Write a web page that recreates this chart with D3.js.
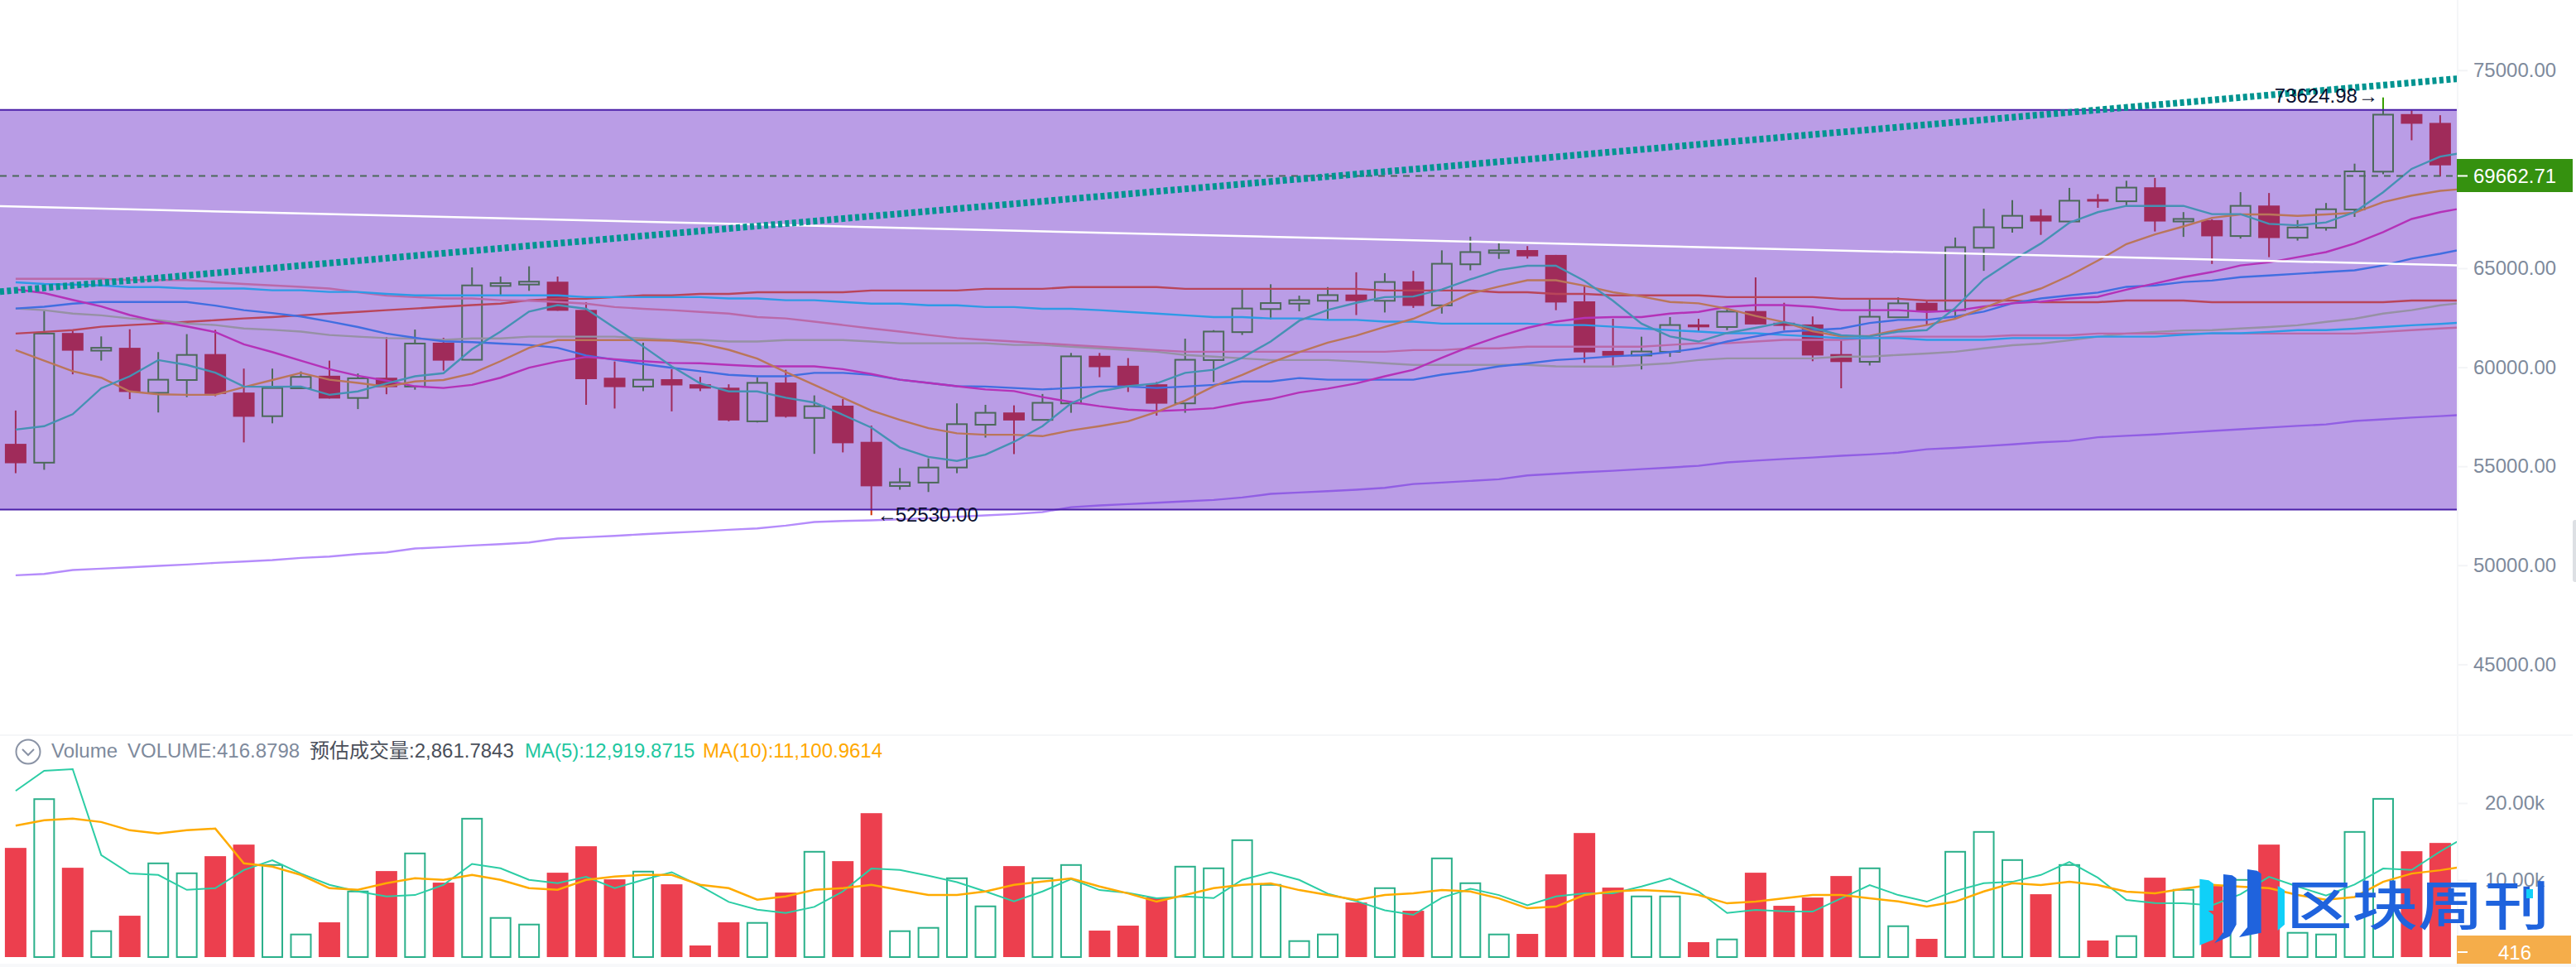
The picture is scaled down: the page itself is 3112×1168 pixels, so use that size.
<!DOCTYPE html>
<html>
<head>
<meta charset="utf-8">
<script src="https://cdn.jsdelivr.net/npm/d3@7"></script>
<style>
html, body { margin: 0; padding: 0; background: #fff; overflow: hidden; }
text { font-family: "Liberation Sans", "Noto Sans CJK SC", sans-serif; }
</style>
</head>
<body>
<div id="graph"></div>
<script>
window.onload = start;

// candles
var opens = [56133,55183,61731,60838,60982,58709,59356,60666,58723,57529,
    58939,59572,58450,59471,59025,61241,60378,64105,64177,64321,
    62896,59471,59025,59399,59140,58968,57270,59227,57442,58061,
    56234,54003,54176,54938,57097,57716,57342,58176,60579,60076,
    59140,58176,60363,61774,62939,63213,63357,63673,63357,64335,
    63126,65199,65774,65918,65673,63328,60824,60594,60781,62162,
    62033,62839,62249,62162,60666,60277,62522,63256,62882,66033,
    67043,67662,67360,68497,68382,69087,67360,67432,66626,68166,
    66540,67043,67964,69878,72785,72339];
var closes = [55154,61702,60838,60982,58752,59371,60623,58651,57500,58953,
    59515,58421,59443,58996,61198,60335,64134,64249,64321,62853,
    59399,58996,59371,59083,58925,57313,59212,57500,58032,56162,
    53989,54190,54938,57126,57701,57313,58205,60551,60004,59068,
    58162,60378,61803,62968,63242,63385,63644,63342,64306,63098,
    65227,65817,65904,65601,63270,60752,60579,60795,62133,62018,
    62810,62162,62090,60594,60263,62551,63227,62839,66062,67069,
    67648,67360,68410,68367,69072,67360,67489,66612,68151,66525,
    67058,67979,69892,72756,72296,70195];
var highs = [57816,62853,61846,61558,61918,60766,61673,61889,59932,59932,
    59788,60335,59687,61529,61903,61486,65040,64580,65098,64580,
    63285,60292,61241,59903,59515,59140,59500,59874,58579,58392,
    57054,54910,55399,58176,58104,58076,58651,60723,60723,60464,
    59255,61443,61874,63932,64191,63616,64047,64796,64752,64868,
    65904,66594,66278,66120,65673,64119,62450,61544,62536,62450,
    62925,64537,63256,62565,61342,63429,63529,63357,66551,68005,
    68439,67979,69058,68741,69418,69561,67835,67475,68842,68799,
    67432,68295,70281,73624.98,72972,72727];
var lows = [54651,54823,59644,60335,58392,57716,58493,58536,56205,57169,
    58896,58421,57888,58637,58867,59831,60378,63644,63860,62853,
    58104,57917,58795,57773,58795,57270,57212,57457,55629,55701,
    52530,53816,53701,54651,56449,55615,57342,57701,59500,58752,
    57557,57701,59255,61630,62421,62824,62421,62637,62767,62997,
    62709,64896,65472,65486,62882,60220,60076,59889,60522,61817,
    61874,62162,61874,60306,58939,60090,62522,62133,62493,64868,
    66799,66683,67259,68051,68151,66856,66583,65216,66496,65561,
    66396,66899,67590,69749,71461,69633];

// moving averages on the price pane
var maTeal = [56852,57025,57629,58939,59543,60364,60119,59730,59025,59011,
    59025,58608,58781,59184,59543,59702,60910,61802,62810,63141,
    62954,61990,61054,60047,59184,58781,58781,58464,58219,57601,
    56953,55946,55471,55269,55586,56234,57025,58176,58781,59040,
    59184,59716,59874,60479,61299,62349,62896,63256,63544,63572,
    63932,64436,64911,65127,65127,64364,63357,62205,61558,61299,
    61731,61990,62277,61990,61615,61558,61802,61874,62997,64436,
    65386,66249,67300,67832,68149,68149,68149,67731,67731,67242,
    67170,67314,67832,68839,70019,70638,70883];
var maOrange = [60867,60335,59802,59471,58781,58637,58608,58608,58996,59356,
    59716,59371,59212,59025,59284,59356,59687,60306,60982,61371,
    61371,61371,61371,61342,61198,60882,60436,59759,59112,58464,
    57816,57342,56924,56665,56593,56593,56521,56809,57025,57270,
    57745,58320,59040,59615,60234,60766,61241,61601,62033,62450,
    63069,63716,64076,64393,64393,64119,63788,63572,63299,63227,
    62954,62594,62277,61817,61558,61587,61889,62133,62450,62997,
    63544,63975,64623,65386,66220,66709,67112,67544,67717,67717,
    67645,67717,67803,68336,68667,68911,69027];
var maMagenta = [63932,63745,63400,63069,62637,62306,62061,61774,61155,60766,
    60335,59903,59572,59327,59040,58953,59112,59471,59975,60292,
    60522,60407,60306,60220,60205,60119,60047,60047,60047,59903,
    59658,59371,59212,59040,58881,58795,58493,58248,58032,57859,
    57787,57845,57931,58205,58392,58723,58925,59184,59543,59874,
    60479,61054,61558,61990,62306,62493,62536,62536,62709,62795,
    63054,63141,63141,63054,62882,62882,62882,62795,62853,63069,
    63227,63313,63472,63558,63918,64234,64551,64810,65141,65299,
    65558,65817,66249,66824,67487,67832,68091];
var maBlue = [62968,63054,63213,63299,63299,63299,63299,63112,62882,62738,
    62565,62306,62033,61702,61486,61313,61270,61198,61126,60982,
    60594,60378,60162,59975,59802,59615,59543,59543,59716,59716,
    59615,59371,59212,59040,59025,58953,58881,58953,59025,59025,
    58953,59025,59112,59284,59284,59457,59371,59371,59371,59371,
    59630,59802,60047,60191,60364,60450,60551,60623,60766,60953,
    61299,61558,61802,61874,61961,62234,62392,62392,62565,62810,
    63227,63472,63630,63774,64062,64134,64306,64378,64551,64637,
    64724,64810,64896,65141,65486,65731,66019];
var maSky = [64292,64206,64177,64134,64047,64047,63975,63975,63975,63889,
    63889,63803,63803,63702,63630,63630,63630,63630,63630,63630,
    63544,63544,63544,63544,63544,63472,63472,63385,63385,63299,
    63213,63213,63127,63127,63040,63040,62954,62954,62882,62795,
    62709,62623,62536,62536,62464,62464,62392,62392,62306,62306,
    62205,62205,62205,62205,62133,62133,62047,61961,61874,61802,
    61716,61716,61630,61558,61472,61472,61472,61385,61385,61385,
    61472,61472,61472,61544,61544,61544,61644,61716,61716,61788,
    61874,61874,61946,62033,62119,62191,62277];
var maPink = [64465,64465,64465,64465,64407,64407,64407,64292,64206,64134,
    64062,63975,63788,63616,63544,63472,63472,63385,63357,63299,
    63213,63040,62954,62882,62795,62709,62536,62464,62306,62133,
    61961,61802,61630,61472,61385,61299,61213,61126,61040,60953,
    60867,60781,60781,60781,60781,60781,60781,60781,60781,60867,
    60867,60953,60953,61040,61040,61040,61040,61040,61126,61213,
    61213,61299,61385,61385,61385,61472,61544,61544,61544,61544,
    61615,61615,61615,61702,61702,61702,61702,61702,61702,61702,
    61702,61702,61702,61788,61874,61961,62033];
var maGray = [62968,62882,62709,62623,62464,62378,62205,62133,61961,61889,
    61802,61630,61544,61472,61457,61385,61457,61457,61544,61544,
    61544,61544,61457,61385,61385,61299,61299,61371,61371,61371,
    61299,61213,61213,61213,61213,61126,61126,61040,60953,60867,
    60781,60623,60536,60450,60364,60364,60364,60292,60205,60119,
    60119,60119,60119,60119,60047,60033,60033,60119,60205,60364,
    60450,60450,60450,60450,60536,60536,60623,60695,60781,60953,
    61112,61198,61357,61544,61702,61788,61860,61874,61961,62033,
    62119,62292,62450,62709,62882,63127,63285];
var maRed = [61702,61788,61874,62047,62133,62205,62292,62378,62464,62536,
    62623,62709,62795,62882,62968,63054,63141,63213,63385,63457,
    63457,63544,63630,63630,63702,63702,63788,63788,63788,63788,
    63875,63875,63875,63875,63961,63961,63961,64047,64047,64047,
    64047,63961,63961,63961,63961,63961,63961,63961,63875,63875,
    63875,63875,63788,63788,63702,63702,63630,63630,63630,63630,
    63544,63544,63544,63544,63457,63457,63457,63371,63371,63371,
    63371,63285,63285,63285,63371,63371,63371,63285,63285,63285,
    63285,63285,63285,63285,63371,63371,63371];
var maViolet = [49495,49565,49760,49829,49899,49969,50038,50122,50192,50261,
    50373,50442,50568,50651,50846,50916,50999,51069,51153,51348,
    51417,51487,51571,51640,51710,51793,51863,52002,52184,52239,
    52268,52323,52379,52449,52518,52588,52686,52936,53020,53089,
    53159,53229,53298,53424,53605,53675,53744,53814,53911,54106,
    54176,54260,54343,54538,54622,54705,54775,54859,54938,55025,
    55198,55284,55370,55442,55528,55600,55687,55859,55931,56018,
    56107,56208,56280,56467,56539,56610,56697,56783,56870,56956,
    57042,57114,57287,57373,57460,57531,57618];

// volume pane
var volumes = [14177,20513,11599,3365,5370,12172,10883,13103,14606,11957,
    2936,4511,8520,11170,13461,9666,17972,5084,4224,10955,
    14392,10096,11098,9451,1504,4511,4439,8377,13676,12458,
    18688,3365,3795,10239,6587,11814,10239,11957,3437,4081,
    7733,11742,11528,15179,9380,2076,2936,7088,8950,6014,
    12816,9594,2936,3007,10740,16110,9022,7876,7876,1933,
    2291,10955,6659,7733,10525,11528,4010,2363,13676,16253,
    12602,8162,11957,2148,2721,10310,8735,9236,10024,14606,
    3150,2936,16253,20549,13747,14821];
var volMa5 = [21587,24201,24416,13246,10847,10668,8735,8950,11313,12566,
    10847,9380,8520,7876,8055,9380,12100,11528,10024,9594,
    10418,8950,10024,11026,9236,7160,6158,5728,6516,8520,
    11492,11313,10561,9738,8520,7232,8520,10131,8699,8341,
    7625,7876,7661,10024,11026,10024,8234,7267,6086,5477,
    7697,8878,8055,6730,7876,8270,8270,9165,10203,8520,
    5728,6122,5943,5907,7625,9344,8055,7196,8592,9594,
    9773,10668,12351,10310,7411,7017,6981,6730,8162,10418,
    9165,7983,9415,11492,11313,13711,15859];
var volMa10 = [17077,17757,17972,17542,16468,16038,16468,16683,12172,11742,
    10668,8950,8735,9594,10239,10024,10668,10024,8950,8735,
    10024,10454,10668,10668,9380,8950,7446,7876,8735,8950,
    9380,8699,8055,8055,8520,9380,9809,10203,9165,8270,
    7196,8055,8950,9380,9559,8699,8055,7411,8055,8270,
    8699,8520,7625,6337,6551,8055,8520,8699,8520,8055,
    6981,7196,7625,8055,8055,7625,7232,6551,7196,8520,
    9594,9344,9773,9344,8485,8270,8878,9380,9129,8950,
    8055,7446,7804,9773,10847,11277,11850];

// drawn levels and trend lines
var bandPrices = [72994, 52817];
var lastPrice = 69662.71;
var highPrice = 73624.98;
var lowPrice = 52530;
var trendIndex = [-0.55, 85.6];
var whiteTrend = [68134, 65144];
var dottedTrend = [63817, 74569];

var priceTicks = [75000, 70000, 65000, 60000, 55000, 50000, 45000];
var priceTickLabels = ["75000.00", "", "65000.00", "60000.00", "55000.00", "50000.00", "45000.00"];
var volumeTicks = [20000, 10000];
var volumeTickLabels = ["20.00k", "10.00k"];

var svg, xScale, yScale, volScale;
var width = 3112, height = 1168, plotRight = 2968;

// colours are given before the translucent band goes over them
var bandFill = "rgba(102,38,200,0.45)";
var upColor = "#37a000", downColor = "#cf3100";

function start() {
    svg = d3.select("#graph").append("svg")
        .attr("width", width)
        .attr("height", height)
        .style("display", "block");

    xScale = d3.scaleLinear().domain([0, 85]).range([18.9, 2947.9]);
    yScale = d3.scaleLinear().domain([45000, 75000]).range([802.4, 84.8]);
    volScale = d3.scaleLinear().domain([0, 20000]).range([1156, 970]);

    svg.append("defs").append("clipPath").attr("id", "plotClip")
        .append("rect").attr("x", 0).attr("y", 0).attr("width", plotRight).attr("height", height);

    drawFrame();
    drawVolume();
    drawPrice();
    drawAxes();
    drawLegend();
    drawLogo();
}

function drawFrame() {
    svg.append("rect").attr("x", 0).attr("y", 887).attr("width", 3108).attr("height", 2).attr("fill", "#f5f6f8");
    svg.append("rect").attr("x", 0).attr("y", 1164).attr("width", 3112).attr("height", 4).attr("fill", "#f7f8fa");
    svg.append("rect").attr("x", 2968).attr("y", 0).attr("width", 2).attr("height", height).attr("fill", "#f5f6f8");
    // scrollbar thumb at the page edge
    svg.append("rect").attr("x", 3108).attr("y", 628).attr("width", 8).attr("height", 75).attr("rx", 3).attr("fill", "#dde0e4");
}

function drawPrice() {
    var plot = svg.append("g").attr("clip-path", "url(#plotClip)");
    var idx = d3.range(opens.length);

    plot.selectAll(".wick").data(idx).enter().append("line")
        .attr("class", "wick")
        .attr("x1", function(i) { return xScale(i); })
        .attr("x2", function(i) { return xScale(i); })
        .attr("y1", function(i) { return yScale(highs[i]); })
        .attr("y2", function(i) { return yScale(lows[i]); })
        .attr("stroke", function(i) { return closes[i] >= opens[i] ? upColor : downColor; })
        .attr("stroke-width", 2);

    plot.selectAll(".body").data(idx).enter().append("rect")
        .attr("class", "body")
        .attr("x", function(i) { return xScale(i) - (closes[i] >= opens[i] ? 12 : 13); })
        .attr("width", function(i) { return closes[i] >= opens[i] ? 24 : 26; })
        .attr("y", function(i) { return yScale(Math.max(opens[i], closes[i])); })
        .attr("height", function(i) { return Math.abs(yScale(opens[i]) - yScale(closes[i])); })
        .attr("fill", function(i) { return closes[i] >= opens[i] ? "#fff" : downColor; })
        .attr("stroke", function(i) { return closes[i] >= opens[i] ? upColor : "none"; })
        .attr("stroke-width", 2);

    var line = d3.line()
        .x(function(d, i) { return xScale(i); })
        .y(function(d) { return yScale(d); });

    var maLines = [
        [maViolet, "#b58cfb"], [maRed, "#fd6000"], [maGray, "#bde988"], [maPink, "#ffa091"],
        [maSky, "#00faff"], [maBlue, "#23a9f5"], [maMagenta, "#f43cac"],
        [maOrange, "#ffb800"], [maTeal, "#2ce9a4"]
    ];
    maLines.forEach(function(m) {
        plot.append("path").attr("d", line(m[0]))
            .attr("fill", "none").attr("stroke", m[1]).attr("stroke-width", 2.4);
    });

    // last price line, sits under the band too
    plot.append("line")
        .attr("x1", 0).attr("x2", plotRight)
        .attr("y1", yScale(lastPrice)).attr("y2", yScale(lastPrice))
        .attr("stroke", upColor).attr("stroke-width", 2).attr("stroke-dasharray", "8 7");

    plot.append("rect")
        .attr("x", 0).attr("width", plotRight)
        .attr("y", yScale(bandPrices[0])).attr("height", yScale(bandPrices[1]) - yScale(bandPrices[0]))
        .attr("fill", bandFill);
    bandPrices.forEach(function(p) {
        plot.append("line").attr("x1", 0).attr("x2", plotRight)
            .attr("y1", yScale(p)).attr("y2", yScale(p))
            .attr("stroke", "#4a1fa8").attr("stroke-width", 2);
    });

    plot.append("line")
        .attr("x1", xScale(trendIndex[0])).attr("x2", xScale(trendIndex[1]))
        .attr("y1", yScale(whiteTrend[0])).attr("y2", yScale(whiteTrend[1]))
        .attr("stroke", "#fff").attr("stroke-width", 2.5);
    plot.append("line")
        .attr("x1", xScale(trendIndex[0])).attr("x2", xScale(trendIndex[1]))
        .attr("y1", yScale(dottedTrend[0])).attr("y2", yScale(dottedTrend[1]))
        .attr("stroke", "#009490").attr("stroke-width", 8).attr("stroke-dasharray", "5 3.5");

    // high and low marks, arrow and number placed apart
    var hiIdx = highs.indexOf(highPrice), loIdx = lows.indexOf(lowPrice);
    extremeLabel(xScale(hiIdx) - 31, yScale(highPrice) - 2, highPrice.toFixed(2), "end");
    extremeLabel(xScale(hiIdx) - 6, yScale(highPrice) - 2, "→", "end");
    extremeLabel(xScale(loIdx) + 7, yScale(lowPrice) - 1, "←", "start");
    extremeLabel(xScale(loIdx) + 29, yScale(lowPrice) - 1, lowPrice.toFixed(2), "start");
}

function extremeLabel(x, y, label, anchor) {
    svg.append("text").attr("x", x).attr("y", y)
        .attr("text-anchor", anchor).attr("dy", "0.35em")
        .attr("font-size", 24).attr("fill", "#0b1030")
        .text(label);
}

function drawVolume() {
    var plot = svg.append("g").attr("clip-path", "url(#plotClip)");
    var idx = d3.range(volumes.length);

    plot.selectAll(".vol").data(idx).enter().append("rect")
        .attr("class", "vol")
        .attr("x", function(i) { return xScale(i) - (closes[i] >= opens[i] ? 12 : 13); })
        .attr("width", function(i) { return closes[i] >= opens[i] ? 24 : 26; })
        .attr("y", function(i) { return volScale(volumes[i]); })
        .attr("height", function(i) { return volScale(0) - volScale(volumes[i]); })
        .attr("fill", function(i) { return closes[i] >= opens[i] ? "#fff" : "#ec3f4e"; })
        .attr("stroke", function(i) { return closes[i] >= opens[i] ? "#2ab08a" : "none"; })
        .attr("stroke-width", 2);

    var line = d3.line()
        .x(function(d, i) { return xScale(i); })
        .y(function(d) { return volScale(d); });

    plot.append("path").attr("d", line(volMa5)).attr("fill", "none").attr("stroke", "#2ccda5").attr("stroke-width", 2);
    plot.append("path").attr("d", line(volMa10)).attr("fill", "none").attr("stroke", "#ffab00").attr("stroke-width", 2.5);
}

function drawAxes() {
    var priceAxis = d3.axisRight(yScale)
        .tickValues(priceTicks.filter(function(t, i) { return priceTickLabels[i] !== ""; }))
        .tickSize(12).tickPadding(7)
        .tickFormat(function(d) { return priceTickLabels[priceTicks.indexOf(d)]; });
    styleAxis(svg.append("g").attr("transform", "translate(2969,0)").call(priceAxis));

    var volumeAxis = d3.axisRight(volScale)
        .tickValues(volumeTicks)
        .tickSize(12).tickPadding(21)
        .tickFormat(function(d) { return volumeTickLabels[volumeTicks.indexOf(d)]; });
    styleAxis(svg.append("g").attr("transform", "translate(2969,0)").call(volumeAxis));

    // last price tag
    svg.append("rect").attr("x", 2968).attr("y", 192).attr("width", 140).attr("height", 40).attr("fill", "#35910f");
    svg.append("line").attr("x1", 2969).attr("x2", 2981)
        .attr("y1", yScale(lastPrice)).attr("y2", yScale(lastPrice)).attr("stroke", "#fff").attr("stroke-width", 2);
    svg.append("text").attr("x", 2988).attr("y", yScale(lastPrice)).attr("dy", "0.35em")
        .attr("font-size", 24).attr("fill", "#fff").text(lastPrice.toFixed(2));

    // last volume tag
    svg.append("rect").attr("x", 2968).attr("y", 1130).attr("width", 138).attr("height", 34).attr("fill", "#f5ad4a");
    svg.append("line").attr("x1", 2969).attr("x2", 2981)
        .attr("y1", 1150).attr("y2", 1150).attr("stroke", "#fff").attr("stroke-width", 2);
    svg.append("text").attr("x", 3038).attr("y", 1151).attr("dy", "0.35em").attr("text-anchor", "middle")
        .attr("font-size", 24).attr("fill", "#fff").text("416");
}

function styleAxis(g) {
    g.select(".domain").remove();
    g.selectAll(".tick line").attr("stroke", "#f3f4f6").attr("stroke-width", 2);
    g.selectAll(".tick text")
        .attr("font-size", 24)
        .attr("font-family", "Liberation Sans")
        .attr("fill", "#7e8a9c");
}

function drawLegend() {
    var y = 907;
    var icon = svg.append("g");
    icon.append("circle").attr("cx", 34).attr("cy", 908).attr("r", 14.5)
        .attr("fill", "none").attr("stroke", "#8a93a5").attr("stroke-width", 2);
    icon.append("path").attr("d", "M27 905 L34 912 L41 905")
        .attr("fill", "none").attr("stroke", "#8a93a5").attr("stroke-width", 2);

    var parts = [
        ["Volume", 62, "#7e8a9c"],
        ["VOLUME:416.8798", 154, "#7e8a9c"],
        ["预估成交量:2,861.7843", 374, "#4a4f5a"],
        ["MA(5):12,919.8715", 634, "#1fc7a0"],
        ["MA(10):11,100.9614", 849, "#ffa800"]
    ];
    parts.forEach(function(p) {
        svg.append("text").attr("x", p[1]).attr("y", y).attr("dy", "0.35em")
            .attr("font-size", 24).attr("fill", p[2]).text(p[0]);
    });
}

function drawLogo() {
    var logo = svg.append("g").attr("transform", "translate(2600,1020) scale(0.3333)");
    logo.append("path").attr("fill", "#10d0f8")
        .attr("d", "M172 125 L205 130 L222 142 L222 240 L203 240 L222 255 L222 345 L172 365 Z");
    logo.append("path").attr("fill", "#1f63dd")
        .attr("d", "M258 108 L290 112 L305 122 L305 290 L282 332 L225 358 L258 318 Z");
    logo.append("path").attr("fill", "#1f63dd")
        .attr("d", "M345 90 L380 95 L395 106 L395 320 L315 336 L345 300 Z");
    logo.append("path").attr("fill", "#10d0f8")
        .attr("d", "M455 150 L480 165 L480 290 L455 312 Z");

    svg.append("text").attr("x", 2762).attr("y", 1117)
        .attr("font-family", "Noto Sans CJK SC").attr("font-weight", 500)
        .attr("font-size", 64).attr("fill", "#1f63dd")
        .attr("textLength", 318).attr("lengthAdjust", "spacingAndGlyphs")
        .text("区块周刊");
    svg.append("rect").attr("x", 3052).attr("y", 1074).attr("width", 8).attr("height", 11).attr("fill", "#10d0f8");
}
</script>
</body>
</html>
